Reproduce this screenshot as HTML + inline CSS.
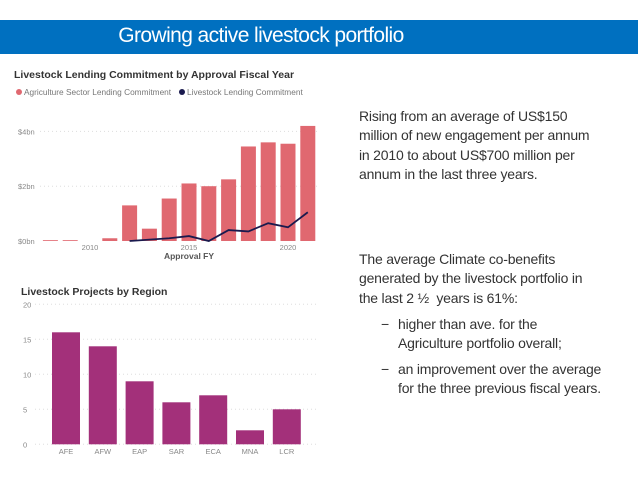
<!DOCTYPE html>
<html><head><meta charset="utf-8">
<style>
body{margin:0;width:638px;height:493px;background:#fff;font-family:"Liberation Sans",sans-serif;position:relative;overflow:hidden}
#band{position:absolute;left:0;top:20px;width:638px;height:34px;background:#0070c0}
#title{position:absolute;left:0;width:522px;top:24px;text-align:center;color:#fff;font-size:21px;letter-spacing:-0.6px}
.t{position:absolute;font-size:14px;color:#333;line-height:19.4px;letter-spacing:-0.2px}
svg text{font-family:"Liberation Sans",sans-serif}
</style></head><body>
<div id="band"></div>
<div id="title">Growing active livestock portfolio</div>
<div class="t" style="left:359px;top:107px;width:270px">Rising from an average of US$150<br>million of new engagement per annum<br>in 2010 to about US$700 million per<br>annum in the last three years.</div>
<div class="t" style="left:359px;top:250px;width:270px">The average Climate co-benefits<br>generated by the livestock portfolio in<br>the last 2 ½&nbsp; years is 61%:</div>
<div class="t" style="left:381px;top:315px">−</div>
<div class="t" style="left:398px;top:315px;width:240px">higher than ave. for the<br>Agriculture portfolio overall;</div>
<div class="t" style="left:381px;top:360px">−</div>
<div class="t" style="left:398px;top:360px;width:240px">an improvement over the average<br>for the three previous fiscal years.</div>
<svg id="c1" width="340" height="280" style="position:absolute;left:0;top:0"></svg>
<svg id="c2" width="340" height="493" style="position:absolute;left:0;top:0"></svg>
<script>
const years=[2008,2009,2010,2011,2012,2013,2014,2015,2016,2017,2018,2019,2020,2021];
const agriValues=[0.03,0.03,0,0.1,1.3,0.45,1.55,2.1,2.0,2.25,3.45,3.6,3.55,4.2];
const lineYears=[2012,2013,2014,2015,2016,2017,2018,2019,2020,2021];
const livestockValues=[0,0.05,0.1,0.18,0.0,0.4,0.35,0.65,0.5,1.05];
const yTicks1=[0,2,4];
const yTickLabels1=["$0bn","$2bn","$4bn"];
const xTicks1=[2010,2015,2020];
const regions=["AFE","AFW","EAP","SAR","ECA","MNA","LCR"];
const projectCounts=[16,14,9,6,7,2,5];
const yTicks2=[0,5,10,15,20];

const NS="http://www.w3.org/2000/svg";
function mk(svg,tag,attrs,txt){const e=document.createElementNS(NS,tag);for(const k in attrs)e.setAttribute(k,attrs[k]);if(txt!==undefined)e.textContent=txt;svg.appendChild(e);return e;}

// chart 1
const s1=document.getElementById('c1');
const x1=y=>90+(y-2010)*19.8;
const y1=v=>241-v*27.4;
let e;
e=mk(s1,'text',{x:14,y:78,'font-size':10.5,'font-weight':'bold',fill:'#333'},'Livestock Lending Commitment by Approval Fiscal Year');

e=mk(s1,'circle',{cx:19,cy:92,r:3,fill:'#e06870'});

e=mk(s1,'text',{x:24,y:95,'font-size':8.3,fill:'#777'},'Agriculture Sector Lending Commitment');

e=mk(s1,'circle',{cx:182,cy:92,r:3,fill:'#1a1a4e'});

e=mk(s1,'text',{x:187,y:95,'font-size':8.3,fill:'#777'},'Livestock Lending Commitment');

yTicks1.forEach((t,i)=>{
  if(t>0){e=mk(s1,'line',{x1:40,x2:318,y1:y1(t),y2:y1(t),stroke:'#ddd','stroke-dasharray':'1 3'});
  }
  e=mk(s1,'text',{x:18,y:y1(t)+3,'font-size':7.5,fill:'#888'},yTickLabels1[i]);
  
});
years.forEach((yr,i)=>{
  const v=agriValues[i];if(v<=0)return;
  e=mk(s1,'rect',{x:x1(yr)-7.5,y:y1(v),width:15,height:241-y1(v),fill:'#e06870'});
  
});
e=mk(s1,'polyline',{points:lineYears.map((yr,i)=>x1(yr)+','+y1(livestockValues[i])).join(' '),fill:'none',stroke:'#1a1a4e','stroke-width':1.8});

xTicks1.forEach(t=>{
  e=mk(s1,'text',{x:x1(t),y:250,'font-size':7.5,fill:'#888','text-anchor':'middle'},String(t));
  
});
e=mk(s1,'text',{x:189,y:259,'font-size':8.5,'font-weight':'bold',fill:'#555','text-anchor':'middle'},'Approval FY');


// chart 2
const s2=document.getElementById('c2');
const y2=v=>444.3-v*7;
const x2=i=>66+i*36.8;
e=mk(s2,'text',{x:21,y:295,'font-size':10.5,'font-weight':'bold',fill:'#333'},'Livestock Projects by Region');

yTicks2.forEach(t=>{
  e=mk(s2,'line',{x1:35,x2:318,y1:y2(t),y2:y2(t),stroke:'#ddd','stroke-dasharray':'1 3'});
  
  e=mk(s2,'text',{x:23,y:y2(t)+3,'font-size':7.5,fill:'#888'},String(t));
  
});
regions.forEach((r,i)=>{
  e=mk(s2,'rect',{x:x2(i)-14,y:y2(projectCounts[i]),width:28,height:projectCounts[i]*7,fill:'#a3307a'});
  
  e=mk(s2,'text',{x:x2(i),y:454,'font-size':7.5,fill:'#888','text-anchor':'middle'},r);
  
});
</script>
</body></html>
